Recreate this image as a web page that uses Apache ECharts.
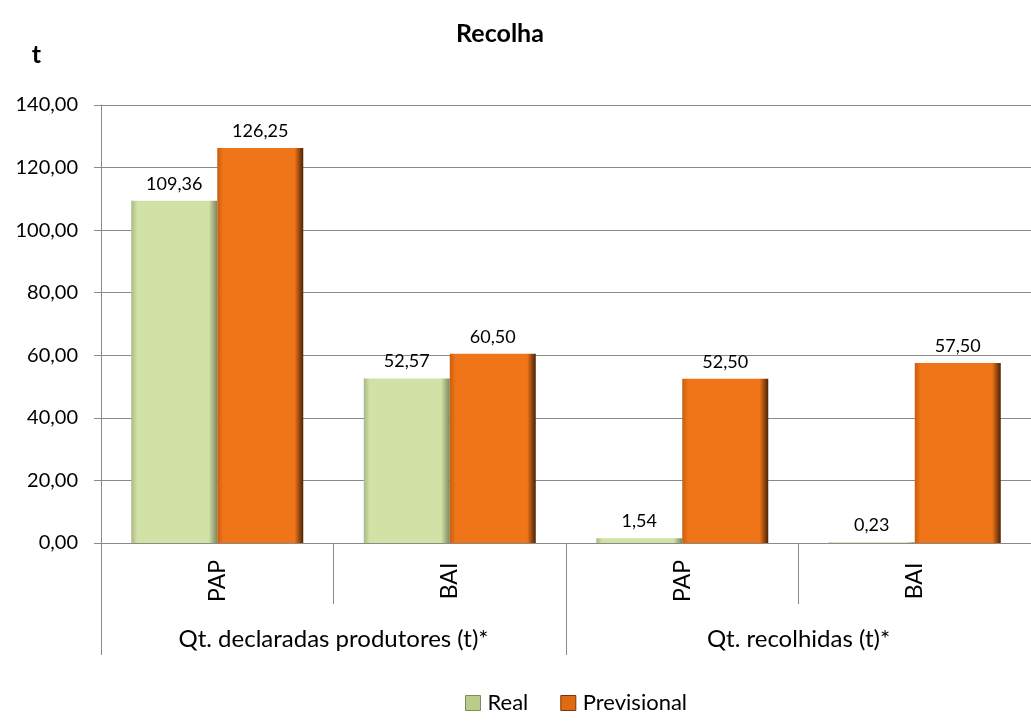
<!DOCTYPE html>
<html>
<head>
<meta charset="utf-8">
<script src="https://cdn.jsdelivr.net/npm/echarts@6/dist/echarts.min.js"></script>
<style>html,body{margin:0;padding:0;background:#fff;}#c{width:1031px;height:721px;}</style>
</head>
<body>
<div id="c"></div>
<script>
var categories = ['PAP', 'BAI', 'PAP', 'BAI'];
var groups = ['Qt. declaradas produtores (t)*', 'Qt. recolhidas (t)*'];
var realValues = [109.36, 52.57, 1.54, 0.23];
var previsionalValues = [126.25, 60.50, 52.50, 57.50];
var seriesNames = ['Real', 'Previsional'];
var chartTitle = 'Recolha';
var unitName = 't';

var FONT = 'Lato';
var LINE = '#8a8a8a';
function fmt(v){ return Number(v).toFixed(2).replace('.', ','); }
function bevel(edge, main, dark){
  return new echarts.graphic.LinearGradient(0,0,1,0,[
    {offset:0, color:edge},{offset:0.07, color:main},{offset:0.9, color:main},{offset:1, color:dark}
  ]);
}
var chart = echarts.init(document.getElementById('c'));
chart.setOption({
  animation:false,
  backgroundColor:'#fff',
  title:{text:chartTitle, left:495, textAlign:'center', top:16,
    textStyle:{fontFamily:FONT, fontWeight:'bold', fontSize:25, color:'#000'}},
  legend:{bottom:2, left:460, itemWidth:15, itemHeight:15, itemGap:32, icon:'rect',
    textStyle:{fontFamily:FONT, fontSize:22, color:'#000', padding:[0,0,0,2]},
    data:[{name:seriesNames[0], itemStyle:{color:'#b9cc8c', borderColor:'#7d8c5a', borderWidth:1}},
          {name:seriesNames[1], itemStyle:{color:'#e06a12', borderColor:'#7a3608', borderWidth:1}}]},
  grid:{left:101, right:-2, top:105, bottom:178, containLabel:false},
  xAxis:[{
    type:'category', data:categories, position:'bottom',
    axisLine:{show:true, lineStyle:{color:LINE, width:1}},
    axisTick:{show:true, length:61, interval:0, lineStyle:{color:LINE, width:1}},
    axisLabel:{rotate:90, align:'center', verticalAlign:'middle', margin:38, interval:0,
      fontFamily:FONT, fontSize:23, color:'#000'}
  },{
    type:'category', data:groups, position:'bottom', offset:61,
    axisLine:{show:false},
    axisTick:{show:true, length:51, interval:0, lineStyle:{color:LINE, width:1}},
    axisLabel:{margin:23, interval:0, fontFamily:FONT, fontSize:24, color:'#000'}
  }],
  yAxis:{
    type:'value', min:0, max:140, interval:20,
    name:unitName, nameLocation:'end', nameGap:38,
    nameTextStyle:{fontFamily:FONT, fontWeight:'bold', fontSize:25, color:'#000', align:'right', padding:[0,60,0,0]},
    axisLine:{show:true, lineStyle:{color:LINE, width:1}},
    axisTick:{show:true, length:7, lineStyle:{color:LINE, width:1}},
    axisLabel:{formatter:fmt, margin:23, fontFamily:FONT, fontSize:20, color:'#000'},
    splitLine:{show:true, lineStyle:{color:LINE, width:1}}
  },
  series:[{
    name:seriesNames[0], type:'bar', data:realValues, barWidth:86, barGap:'0%',
    itemStyle:{color:bevel('#a9b888', '#d2e2a6', '#7a8660')},
    label:{show:true, position:'top', distance:8, formatter:function(p){return fmt(p.value);},
      fontFamily:FONT, fontSize:18, color:'#000'}
  },{
    name:seriesNames[1], type:'bar', data:previsionalValues, barWidth:86, barGap:'0%',
    itemStyle:{color:bevel('#c85f10', '#f07518', '#4a2205')},
    label:{show:true, position:'top', distance:8, formatter:function(p){return fmt(p.value);},
      fontFamily:FONT, fontSize:18, color:'#000'}
  }]
});
</script>
</body>
</html>
